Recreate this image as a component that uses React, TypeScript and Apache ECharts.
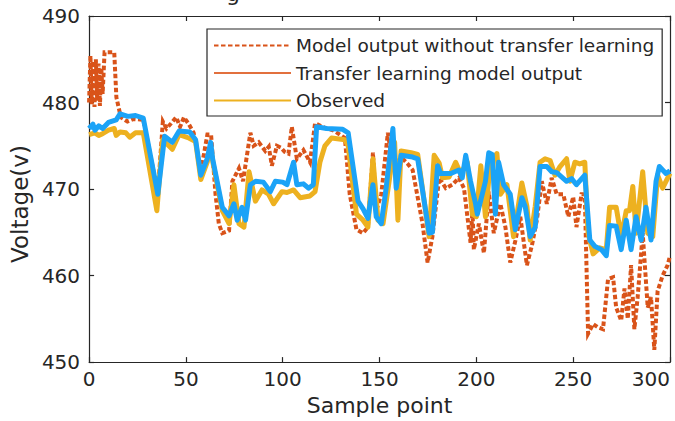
import React, { useEffect, useRef } from "react";
import * as echarts from "echarts";

const xTicks = [0, 50, 100, 150, 200, 250, 300];
const yTicks = [450, 460, 470, 480, 490];

const legendNames = [
  "Model output without transfer learning",
  "Transfer learning model output",
  "Observed",
];

// Model output without transfer learning (dashed)
const modelNoTL: [number, number][] = [
  [0, 480.0], [0.7, 485.4], [1.4, 479.8], [2.1, 484.8], [2.8, 479.5], [3.5, 485.0], [4.2, 480.2],
  [4.9, 484.5], [5.6, 479.6], [6.3, 484.0], [7, 481.0], [8, 485.8], [13, 485.8], [14.1, 480.6],
  [16.4, 478.3], [19.8, 477.8], [23, 478.1], [28, 478.0], [35.5, 469.6], [38.1, 477.8], [40, 477.0],
  [42.4, 477.6], [45, 478.3], [47, 477.2], [49, 478.3], [51.5, 477.5], [54, 476.5], [57.7, 472.0],
  [61.1, 476.3], [63, 476.3], [65.3, 469.4], [67, 466.0], [68.8, 464.9], [72.3, 465.2], [74, 470.9],
  [77.4, 472.4], [79.5, 470.9], [83.3, 476.5], [85, 475.0], [87.6, 475.4], [91, 474.4], [92.8, 474.9],
  [94.4, 472.7], [97, 475.0], [99, 474.8], [101, 474.3], [103, 474.1], [104.7, 477.2], [107.3, 473.5],
  [110.7, 474.5], [114.1, 473.1], [116.7, 477.6], [122.6, 477.0], [126, 476.8], [132.1, 475.9],
  [134.6, 469.4], [138.1, 465.3], [141.5, 464.9], [144, 465.6], [146.6, 474.2], [148.3, 467.5],
  [150.9, 469.4], [154.3, 476.5], [156.9, 472.5], [159.5, 473.3], [162, 473.5], [164.6, 472.9],
  [167.1, 472.2], [172.2, 466.0], [174.8, 461.5], [177.3, 464.5], [180.8, 471.3], [184.2, 470.1],
  [187.6, 470.5], [191, 471.3], [193.6, 470.1], [197, 463.8], [198, 467.5], [198.7, 463.0],
  [201.3, 466.0], [203.9, 462.6], [206.4, 469.7], [209, 464.9], [212.4, 468.3], [215, 465.6],
  [217.5, 461.5], [220.1, 464.0], [222.7, 466.8], [226.1, 461.2], [228.7, 463.5], [231.3, 466.5],
  [233.8, 470.9], [236.4, 468.3], [238.9, 471.3], [241.5, 469.4], [244.9, 469.4], [247.5, 466.8],
  [250, 469.1], [251.7, 465.6], [254.3, 469.4], [256, 469.4], [257.7, 453.3], [260.3, 454.4],
  [262.9, 454.0], [265.4, 453.8], [268, 459.6], [270.6, 459.8], [272.2, 456.3], [274.8, 454.8],
  [276.5, 458.5], [278.2, 455.0], [279.9, 461.2], [281.6, 453.8], [283.3, 457.5], [285.9, 464.9],
  [288.5, 456.3], [290.2, 457.5], [291.9, 451.4], [293.6, 458.2], [296.2, 460.0], [298.8, 461.2],
  [300, 462.3],
];

// Transfer learning model output
const modelTL: [number, number][] = [
  [0, 477.0], [2, 477.5], [3, 476.8], [5, 477.3], [7, 477.0], [10, 477.7], [14, 478.0], [16, 478.7],
  [20, 478.4], [24, 478.5], [28, 478.2], [35.5, 469.4], [39, 476.1], [43, 475.4], [46.5, 476.7],
  [52, 476.6], [55, 475.7], [57.7, 471.6], [61, 473.5], [62.8, 475.4], [63.8, 473.5], [68.8, 467.9],
  [72.3, 466.9], [74.8, 468.3], [76.5, 466.4], [79, 467.9], [80.8, 466.4], [83.3, 470.5], [86, 470.9],
  [90, 470.8], [93.6, 469.7], [96.2, 470.9], [100, 470.8], [102.2, 470.5], [105.6, 473.1],
  [107.3, 470.5], [110.7, 470.6], [113.3, 470.1], [115.8, 470.5], [117.5, 477.2], [122.6, 477.0],
  [131, 476.9], [133.8, 476.5], [138.9, 468.6], [141.5, 467.7], [144, 466.6], [146.6, 470.5],
  [148.3, 466.8], [150.9, 466.0], [153.4, 470.1], [156.9, 477.0], [158.6, 470.1], [161.1, 473.9],
  [167.1, 473.7], [169.7, 473.5], [175.6, 464.9], [177.3, 465.0], [180, 472.7], [181.6, 471.8],
  [186.8, 471.8], [191, 472.2], [192.7, 471.3], [194.5, 473.9], [197, 470.9], [199.6, 468.3],
  [200.5, 467.1], [204.7, 470.9], [206.4, 474.2], [208.2, 474.0], [209.8, 467.1], [211.5, 473.1],
  [214.1, 470.5], [217.5, 469.4], [220.1, 465.3], [223.5, 469.0], [225.2, 468.0], [227.8, 464.5],
  [230.4, 465.6], [232.9, 472.6], [236.4, 472.6], [238.9, 472.0], [241.5, 471.9], [246.6, 470.9],
  [249.2, 471.2], [251.7, 470.5], [256, 471.6], [258.6, 464.1], [261.1, 463.4], [264.6, 463.0],
  [267.1, 462.3], [268.8, 465.8], [272.2, 465.7], [274.8, 463.0], [277.4, 466.4], [279.9, 463.0],
  [282.5, 466.8], [285.1, 464.1], [287.6, 467.9], [290.2, 464.1], [292.8, 470.9], [294.5, 472.6],
  [297.9, 471.8], [300, 472.1],
];

// Observed
const observed: [number, number][] = [
  [0, 476.3], [3, 476.5], [5, 476.2], [7, 476.4], [10, 476.8], [13, 477.0], [14, 476.2], [16, 476.6],
  [19, 476.5], [21, 476.0], [24, 476.5], [28, 476.5], [35, 467.5], [38, 475.7], [43, 474.6],
  [46.5, 476.3], [51.5, 475.9], [55, 475.5], [57.7, 471.1], [61, 473.1], [62.8, 475.0], [64, 473.0],
  [68.8, 467.5], [72.3, 466.0], [74.8, 470.5], [77.4, 466.0], [80, 465.6], [82.6, 472.0], [85.9, 468.6],
  [89.3, 469.9], [92.7, 469.4], [95.3, 468.3], [99.6, 469.7], [102.2, 469.6], [105.6, 469.9],
  [109, 469.0], [114.1, 469.2], [116.7, 469.7], [119.2, 473.1], [121.8, 475.0], [125.2, 475.9],
  [132.1, 475.7], [133.8, 475.0], [138.1, 467.1], [141.5, 466.4], [144, 465.6], [146.6, 473.5],
  [149.2, 466.4], [151.8, 466.0], [155.2, 471.3], [157.8, 475.4], [159.5, 466.4], [161.1, 474.4],
  [166.3, 474.2], [169.7, 474.0], [175.6, 464.5], [178.2, 473.9], [180.8, 473.0], [182.5, 471.3],
  [185.9, 471.4], [189.3, 473.1], [191.9, 471.8], [195.3, 473.1], [197.9, 467.1], [200, 466.8],
  [202.3, 472.7], [204.7, 466.8], [207.2, 473.1], [210.6, 474.1], [212.4, 469.4], [215.8, 470.5],
  [219.2, 464.5], [223.5, 470.7], [226.1, 468.0], [227.8, 464.1], [230.4, 468.0], [232.9, 473.1],
  [235.5, 473.5], [238.1, 473.3], [240.6, 471.6], [243.2, 472.6], [246.6, 473.5], [248.3, 470.9],
  [250.9, 473.1], [253.4, 472.9], [256, 473.1], [257.7, 464.9], [260.3, 462.5], [263.7, 463.2],
  [267.1, 463.0], [268.8, 467.9], [272.2, 467.9], [274.8, 464.5], [277.4, 467.5], [279.1, 467.5],
  [280.8, 470.3], [282.5, 464.9], [285.9, 472.0], [288.5, 464.9], [291.1, 464.5], [293.6, 471.6],
  [296.2, 470.1], [300, 471.8],
];

const FONT = "DejaVu Sans";
const INK = "#262626";

export default function App() {
  const ref = useRef<HTMLDivElement>(null);

  useEffect(() => {
    if (!ref.current) return;
    const chart = echarts.init(ref.current, undefined, { renderer: "svg" });
    const xMin = xTicks[0];
    const xMax = xTicks[xTicks.length - 1];
    const xInt = xTicks[1] - xTicks[0];
    const yMin = yTicks[0];
    const yMax = yTicks[yTicks.length - 1];
    const yInt = yTicks[1] - yTicks[0];
    const axisLine = { show: true, onZero: false, lineStyle: { color: INK, width: 1.2 } };
    const axisTick = { show: true, inside: true, length: 5, lineStyle: { color: INK, width: 1.2 } };

    chart.setOption({
      animation: false,
      backgroundColor: "#ffffff",
      textStyle: { fontFamily: FONT },
      grid: { left: 86, right: 5, top: 16, bottom: 49, containLabel: false },
      graphic: [
        {
          type: "text",
          left: 226,
          top: -18,
          silent: true,
          style: { text: "g", fontSize: 22, fontFamily: FONT, fill: INK },
        },
      ],
      legend: {
        data: legendNames,
        orient: "vertical",
        left: 207,
        top: 29,
        itemWidth: 77,
        itemHeight: 20,
        itemGap: 8.5,
        padding: [7, 8, 6, 6],
        backgroundColor: "#ffffff",
        borderColor: INK,
        borderWidth: 1.2,
        selectedMode: false,
        itemStyle: { opacity: 0 },
        textStyle: { fontSize: 18.5, color: INK, fontFamily: FONT },
      },
      xAxis: [
        {
          type: "value",
          position: "bottom",
          min: xMin,
          max: xMax,
          interval: xInt,
          axisLine,
          axisTick,
          splitLine: { show: false },
          axisLabel: {
            fontSize: 20,
            color: INK,
            fontFamily: FONT,
            margin: 7,
            alignMaxLabel: "right",
          },
          name: "Sample point",
          nameLocation: "middle",
          nameGap: 22,
          nameTextStyle: { fontSize: 22, color: INK, fontFamily: FONT },
        },
        {
          type: "value",
          position: "top",
          min: xMin,
          max: xMax,
          interval: xInt,
          axisLine,
          axisTick,
          splitLine: { show: false },
          axisLabel: { show: false },
        },
      ],
      yAxis: [
        {
          type: "value",
          position: "left",
          min: yMin,
          max: yMax,
          interval: yInt,
          axisLine,
          axisTick,
          splitLine: { show: false },
          axisLabel: { fontSize: 20, color: INK, fontFamily: FONT, margin: 9 },
          name: "Voltage(v)",
          nameLocation: "middle",
          nameGap: 51,
          nameTextStyle: { fontSize: 23, color: INK, fontFamily: FONT, padding: [0, 30, 0, 0] },
        },
        {
          type: "value",
          position: "right",
          min: yMin,
          max: yMax,
          interval: yInt,
          axisLine,
          axisTick,
          splitLine: { show: false },
          axisLabel: { show: false },
        },
      ],
      series: [
        {
          name: legendNames[0],
          type: "line",
          data: modelNoTL,
          symbol: "none",
          showSymbol: false,
          z: 2,
          itemStyle: { color: "#D95319" },
          lineStyle: { color: "#D95319", width: 4, type: [4.5, 2.5], cap: "butt", join: "miter" },
        },
        {
          name: legendNames[1],
          type: "line",
          data: modelTL,
          symbol: "none",
          showSymbol: false,
          z: 3,
          itemStyle: { color: "#E2703E" },
          lineStyle: { color: "#E2703E", width: 1.5, join: "round" },
        },
        {
          name: legendNames[2],
          type: "line",
          data: observed,
          symbol: "none",
          showSymbol: false,
          z: 4,
          itemStyle: { color: "#EDB120" },
          lineStyle: { color: "#EDB120", width: 5, join: "round" },
        },
        {
          name: "Transfer learning output (blue)",
          type: "line",
          data: modelTL,
          symbol: "none",
          showSymbol: false,
          z: 5,
          itemStyle: { color: "#1BA3F7" },
          lineStyle: { color: "#1BA3F7", width: 5, join: "round" },
        },
      ],
    });

    return () => {
      chart.dispose();
    };
  }, []);

  return (
    <div
      ref={ref}
      style={{ position: "absolute", left: 0, top: 0, width: 675, height: 421 }}
    />
  );
}
